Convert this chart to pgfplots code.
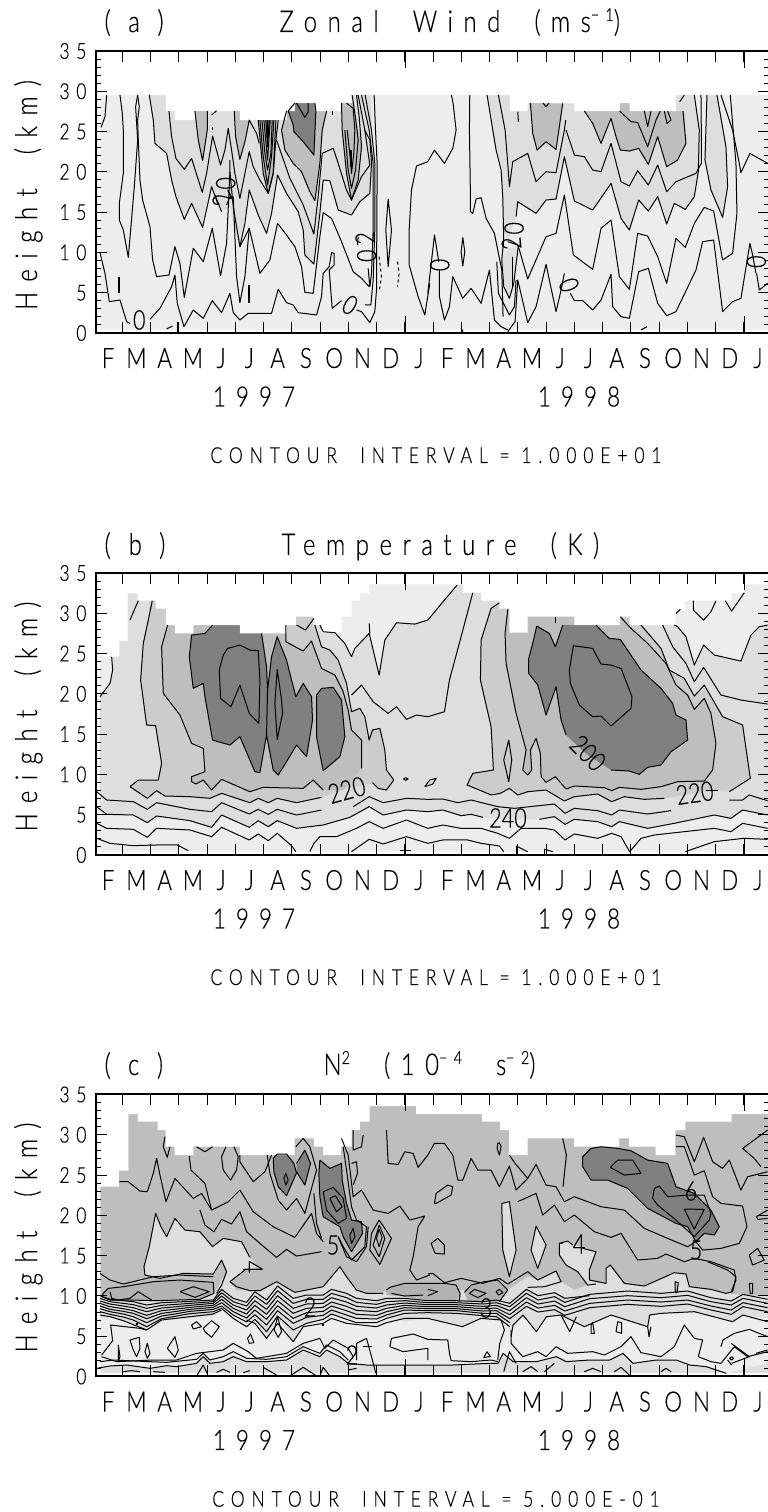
\documentclass[border=0pt]{standalone}
\usepackage{fontspec}
\usepackage{pgfplots}
\pgfplotsset{compat=1.18}
\setmainfont{Lato Light}
\newfontfamily\tf[FakeStretch=0.8,FakeBold=0.3]{Lato Light}
\definecolor{gA}{gray}{0.93}
\definecolor{gB}{gray}{0.87}
\definecolor{gC}{gray}{0.80}
\definecolor{gD}{gray}{0.745}
\definecolor{gE}{gray}{0.70}
\definecolor{gF}{gray}{0.50}
\newcommand{\Cl}[1]{\addplot[cl] coordinates {#1};}
\newcommand{\Fl}[2]{\addplot[fill=#1,draw=none] coordinates {#2} -- cycle;}
\pgfplotsset{
  cl/.style={black,line width=1pt,line join=round},
  panel/.style={
    scale only axis,width=673pt,height=282pt,anchor=south west,
    xmin=1.07,xmax=24.89,ymin=0,ymax=35,
    axis on top,
    axis line style={line width=2pt},
    tick align=inside,
    tick style={black,line width=1pt},
    xtick={2,...,24},xticklabels={},xtick pos=both,
    major tick length=11pt,minor tick length=5pt,
    extra x ticks={1.5,2.5,...,24.5},
    extra x tick labels={F,M,A,M,J,J,A,S,O,N,D,J,F,M,A,M,J,J,A,S,O,N,D,J},
    extra x tick style={major tick length=0pt,tick style={draw=none},xticklabel pos=bottom,
      xticklabel style={anchor=base,yshift=-35pt,font=\tf\fontsize{28}{28}\selectfont}},
    ytick={0,5,...,35},minor y tick num=4,ytick pos=both,
    yticklabel pos=left,
    /pgf/number format/assume math mode=true,
    yticklabel style={font=\tf\fontsize{22}{22}\selectfont\addfontfeature{LetterSpace=30},xshift=-6pt},
    x filter/.expression={12+(x/3-315)/28.27},
  },
}
\begin{document}
\begin{tikzpicture}[x=1pt,y=1pt]
\path[use as bounding box] (0,0) rectangle (768,1512);
\newcommand{\ttl}{\tf\fontsize{30}{30}\selectfont\addfontfeature{LetterSpace=35}}

%%%%%%%%%%%%%%%%%%%%%%%% panel a
\begin{axis}[panel,at={(96pt,1179pt)},y filter/.expression={(203-y/3)/8.06}]
\Fl{gA}{(30,-105) (2110,-105) (2110,600) (30,600)}
\Fl{gB}{(178,-105) (190,-30) (195,40) (230,70) (245,150) (258,200) (283,268) (305,220) (338,292) (365,170) (390,245) (420,230) (435,300) (450,350) (478,180) (505,255) (530,310) (545,250) (563,135) (590,190) (625,245) (640,300) (645,375) (672,402) (690,250) (700,150) (720,152) (745,240) (785,255) (810,215) (840,190) (845,100) (845,-105)}
\Fl{gD}{(315,-57) (325,30) (338,92) (352,0) (352,-57)}
\Fl{gD}{(433,-57) (437,20) (450,88) (465,35) (475,-30) (475,-57)}
\Fl{gD}{(505,-30) (520,130) (535,190) (550,130) (558,-30)}
\Fl{gF}{(525,-30) (533,60) (541,-30)}
\Fl{gD}{(590,-57) (575,0) (585,60) (610,100) (635,125) (660,185) (675,212) (690,100) (700,0) (710,-81) (590,-81)}
\Fl{gF}{(615,-81) (595,-57) (610,-15) (612,5) (640,35) (672,75) (678,-57) (675,-81)}
\Fl{gD}{(755,-81) (790,-81) (815,50) (805,150) (785,210) (770,130) (758,0)}
\Fl{gB}{(1192,-105) (1209,0) (1219,60) (1236,120) (1242,300) (1254,335) (1279,260) (1284,215) (1339,250) (1369,210) (1399,207) (1424,80) (1454,213) (1509,240) (1564,160) (1594,265) (1619,300) (1647,210) (1676,243) (1704,200) (1731,282) (1754,220) (1787,238) (1814,200) (1826,125) (1829,0) (1814,-105)}
\Fl{gB}{(1236,390) (1242,470) (1259,505) (1272,470) (1284,350) (1254,355) (1239,380)}
\Fl{gB}{(1852,-105) (1846,90) (1864,180) (1899,262) (1914,170) (1909,50) (1882,-105)}
\Fl{gD}{(1322,-81) (1329,10) (1342,60) (1369,35) (1399,58) (1419,-80)}
\Fl{gD}{(1484,-57) (1509,-20) (1534,40) (1564,-35) (1579,20) (1592,60) (1619,63) (1647,55) (1676,103) (1704,20) (1731,110) (1764,90) (1789,40) (1784,-57)}
\Fl{gD}{(1590,-81) (1620,-81) (1620,-57) (1590,-57)}
\Fl{white}{(-100,-400) (2150,-400) (2150,-105) (1759,-105) (1759,-57) (1620,-57) (1620,-81) (1590,-81) (1590,-57) (1454,-57) (1454,-81) (1314,-81) (1314,-57) (1260,-57) (1260,-105) (785,-105) (785,-81) (755,-81) (755,-57) (675,-57) (675,-81) (615,-81) (615,-57) (590,-57) (590,-30) (450,-30) (450,-57) (315,-57) (315,-30) (255,-30) (255,-57) (228,-57) (228,-105) (33,-105) (33,600) (2150,600) (2150,700) (-100,700)}
\Cl{(33,-8) (45,-40) (50,-105)}
\Cl{(90,-105) (97,-50) (100,0) (100,130) (88,220) (88,270) (100,300) (115,382) (122,300) (133,170) (143,30) (137,-70) (143,-105)}
\Cl{(143,-105) (148,-70) (143,-30) (145,30) (150,150) (158,210) (180,290) (188,390) (200,440) (237,435) (255,350) (270,400) (283,502) (310,355) (340,395) (367,295) (392,437) (410,340) (420,125) (420,90)}
\Cl{(178,-105) (190,-30) (195,40) (230,70) (245,150) (258,200) (283,268) (305,220) (338,292) (365,170) (385,225)}
\Cl{(237,-57) (245,20) (258,85) (283,118) (305,85) (337,187) (350,130) (368,18) (392,105) (405,60) (415,-5) (425,60) (435,130) (450,205) (478,65) (490,110) (510,150) (535,190) (550,130) (558,30) (565,-30)}
\Cl{(375,195) (395,245)}
\Cl{(410,225) (420,200)}
\Cl{(315,-57) (325,30) (338,92) (352,0) (352,-57)}
\Cl{(365,-45) (380,-58)}
\Cl{(367,-10) (367,0)}
\Cl{(433,-57) (437,20) (450,88) (465,35) (478,-30) (500,10) (508,40)}
\Cl{(420,125) (430,230) (450,350) (465,280) (478,180) (505,255) (530,310) (545,250) (563,135) (590,190) (625,245) (640,300) (645,375) (672,402) (690,250) (700,150) (720,152) (745,240) (785,255) (810,215) (840,190) (845,100) (840,30) (825,0)}
\Cl{(430,200) (440,440) (450,518) (465,440) (478,295)}
\Cl{(450,350) (478,295) (510,430) (540,390) (563,280) (590,315) (615,350) (635,410) (645,487) (670,490) (690,320) (700,248) (725,265) (755,335) (790,425) (815,445) (838,470)}
\Cl{(505,-30) (520,130) (535,190) (550,130) (558,-30)}
\Cl{(510,-30) (520,80) (533,165) (545,80) (552,-30)}
\Cl{(516,-30) (525,70) (533,120) (543,70) (547,-30)}
\Cl{(522,-30) (533,90) (541,-30)}
\Cl{(528,-30) (533,50) (538,-30)}
\Cl{(533,-30) (533,20)}
\Cl{(590,-57) (575,0) (585,60) (610,100) (635,125) (660,185) (675,212) (690,100) (697,0) (710,-57)}
\Cl{(615,-81) (595,-57) (610,-15) (612,5) (640,35) (672,75) (678,-57) (675,-81)}
\Cl{(620,-81) (645,-38) (655,-55) (655,-81)}
\Cl{(560,30) (600,145) (640,225) (672,312) (685,200) (697,70) (730,55) (745,100) (770,180) (785,210) (815,140) (840,105) (825,0) (805,-105)}
\Cl{(728,-57) (728,-45)}
\Cl{(765,0) (775,120) (785,175) (797,120) (805,30) (798,-30) (787,-105)}
\Cl{(772,0) (783,100) (785,130) (792,70) (795,0) (790,-65) (770,-81)}
\Cl{(755,-81) (757,0) (770,130) (785,210) (805,150) (815,50) (808,-40) (800,-105)}
\addplot[cl,line width=2pt] coordinates {(783,60) (783,110)};
\addplot[cl,line width=2pt] coordinates {(87,440) (87,490)};
\addplot[cl,line width=2pt] coordinates {(478,465) (478,520)};
\Cl{(30,368) (45,430) (58,515) (90,510) (110,575) (120,580)}
\Cl{(180,568) (210,535) (245,470) (255,435) (262,520) (282,590) (310,540) (340,565) (367,512) (395,548) (420,490) (430,548) (450,570) (475,550) (490,550) (545,550) (565,478) (590,518) (610,525) (625,548) (680,555) (695,500) (700,430) (718,410) (725,368) (733,370) (733,405) (718,420) (727,535) (755,512)}
\Cl{(230,597) (248,588)}
\Cl{(262,575) (262,605)}
\Cl{(800,540) (815,545) (840,578) (855,545) (860,480) (862,100) (857,0) (853,-105)}
\Cl{(826,-105) (845,0) (855,100) (855,300) (850,450) (843,525) (825,525)}
\Cl{(815,-105) (838,0) (850,100) (850,300) (845,430) (840,470)}
\Cl{(835,415) (840,470)}
\Cl{(805,320) (803,345)}
\addplot[cl,dashed] coordinates {(868,380) (875,440) (868,485)};
\addplot[cl,dashed] coordinates {(923,395) (928,430) (923,470)};
\Cl{(895,207) (905,300) (895,410) (888,300) (895,207)}
\Cl{(1020,460) (1005,555) (985,500) (958,405) (958,300) (965,180) (980,108) (1014,95) (1034,60) (1064,100) (1089,55) (1099,0) (1090,-80) (1085,-105)}
% right crop
\Cl{(1014,490) (1034,315) (1047,395)}
\Cl{(1049,420) (1049,500) (1064,570) (1079,530) (1089,440) (1119,505) (1144,475) (1174,520) (1199,420) (1214,570) (1234,590) (1254,600)}
\Cl{(1140,-105) (1139,0) (1142,200) (1142,245) (1149,250) (1159,207) (1174,203) (1189,265) (1214,310) (1236,420) (1240,560)}
\Cl{(1119,322) (1125,365) (1119,408) (1114,365) (1119,322)}
\Cl{(1192,-105) (1209,0) (1219,60) (1234,120) (1239,200) (1242,330) (1236,390) (1242,470) (1259,505) (1272,460) (1286,345)}
\Cl{(1226,-105) (1246,0) (1254,100) (1259,170) (1269,95) (1314,70) (1339,155) (1369,125) (1399,128) (1424,0) (1428,-30)}
\Cl{(1221,395) (1226,490) (1259,555) (1274,530) (1279,450)}
\Cl{(1254,605) (1276,575) (1284,450) (1314,578) (1339,530) (1369,403) (1399,545) (1414,480) (1424,430)}
\Cl{(1254,335) (1284,345) (1289,360) (1314,447) (1369,320) (1399,310) (1424,195) (1451,375) (1509,418) (1534,295) (1564,270) (1589,440) (1619,478) (1644,310) (1674,318) (1704,380) (1731,460) (1759,325) (1787,352) (1814,280) (1844,232) (1872,243) (1899,390) (1929,370) (1942,250) (1939,100) (1922,-105)}
\Cl{(1279,260) (1284,215) (1339,250) (1369,210) (1399,207) (1424,80) (1454,213) (1509,240) (1564,160) (1594,265) (1619,300) (1647,210) (1676,243) (1704,200) (1731,282) (1754,220) (1787,238) (1814,200) (1826,125) (1829,0) (1814,-105)}
\Cl{(1429,0) (1454,75) (1484,80) (1509,120) (1534,125) (1564,40) (1594,155) (1619,168) (1644,122) (1676,165) (1704,105) (1731,185) (1759,155) (1819,130) (1835,100) (1835,0) (1834,-105)}
\Cl{(1322,-81) (1329,10) (1342,60) (1369,35) (1399,58) (1419,-80)}
\Cl{(1484,-57) (1509,-20) (1534,40) (1564,-35) (1579,20) (1592,60) (1619,63) (1647,55) (1676,103) (1704,20) (1731,110) (1764,90) (1789,40) (1780,-57)}
\Cl{(1590,-57) (1624,-25) (1644,-23) (1674,50) (1699,-30) (1712,-57)}
\Cl{(1664,-57) (1674,-10) (1684,-57)}
\Cl{(1724,-57) (1732,-20) (1744,-30) (1734,-57)}
\Cl{(1284,-55) (1286,-25)}
\Cl{(1360,-81) (1369,-70) (1378,-81)}
\Cl{(1770,-85) (1784,-105)}
\Cl{(1442,490) (1454,512) (1479,512) (1509,540) (1534,510) (1564,433) (1569,530) (1594,560) (1619,565) (1647,425) (1676,415) (1704,520) (1731,557) (1759,545) (1819,420) (1839,335) (1872,330) (1899,545) (1929,515) (1954,505) (1981,340) (1989,375) (1999,430)}
\Cl{(2001,430) (2009,480) (2034,460)}
\Cl{(1852,-105) (1846,90) (1864,180) (1899,262) (1914,170) (1909,50) (1882,-105)}
\Cl{(1894,-105) (1929,0) (1949,100) (1954,128) (1981,70) (2034,100)}
\Cl{(1238,410) (1238,430)}
\Cl{(1268,380) (1268,470)}
\Cl{(1654,600) (1672,590)}
\Cl{(1114,595) (1120,605)}
\end{axis}
\node[rotate=90,anchor=base] at (37,1317) {\ttl Height\ \ (km)};

%%%%%%%%%%%%%%%%%%%%%%%% panel b
\begin{axis}[panel,at={(96pt,657pt)},y filter/.expression={(275-y/3)/8.06}]
\Fl{gA}{(30,-100) (2110,-100) (2110,815) (30,815)}
\Fl{gB}{(30,350) (60,310) (68,270) (65,230) (65,-50) (700,-50) (700,155) (735,158) (765,190) (785,230) (795,205) (838,160) (868,285) (885,180) (920,128) (975,132) (1014,120) (1064,60) (1102,15) (1102,-50) (1754,-50) (1754,135) (1764,140) (1789,170) (1814,255) (1842,195) (1874,225) (1954,243) (1984,165) (2009,140) (2034,135) (2110,135) (2110,705) (2034,705) (1959,690) (1919,715) (1874,705) (1754,730) (1674,745) (1589,725) (1566,740) (1524,725) (1454,718) (1426,733) (1394,710) (1349,718) (1194,715) (1144,703) (1114,707) (1059,690) (1014,695) (950,690) (880,705) (838,680) (780,712) (700,735) (620,745) (562,722) (535,740) (505,722) (478,742) (395,705) (365,742) (300,722) (200,708) (172,728) (130,705) (50,703) (30,685)}
\Fl{gC}{(190,-50) (175,120) (160,190) (152,300) (170,435) (197,437) (215,550) (205,600) (145,600) (120,620) (172,655) (200,632) (225,648) (300,650) (360,655) (395,640) (480,668) (505,655) (535,668) (562,655) (620,668) (700,650) (770,625) (850,610) (865,625) (890,630) (912,600) (890,570) (885,510) (870,445) (848,450) (838,480) (825,410) (810,385) (785,395) (770,310) (745,240) (720,210) (695,200) (675,135) (675,-50)}
\Fl{gD}{(233,-50) (233,135) (215,200) (220,340) (270,405) (305,490) (340,505) (345,575) (305,590) (305,605) (318,612) (340,600) (365,630) (395,598) (480,635) (520,622) (640,625) (670,600) (700,630) (760,630) (815,565) (815,480) (785,450) (775,390) (760,335) (735,285) (695,265) (665,183) (640,213) (588,185) (588,-50)}
\Fl{gC}{(1229,-50) (1229,68) (1204,85) (1174,180) (1172,300) (1204,440) (1211,570) (1149,580) (1132,615) (1169,630) (1204,645) (1232,640) (1259,625) (1284,645) (1314,635) (1369,630) (1424,663) (1454,650) (1524,642) (1566,665) (1604,650) (1664,658) (1724,655) (1814,640) (1884,630) (1919,635) (1982,595) (1959,440) (1899,410) (1844,315) (1814,348) (1784,300) (1739,270) (1714,205) (1654,135) (1634,-50)}
\Fl{gD}{(1254,-50) (1254,88) (1246,160) (1249,250) (1279,400) (1309,510) (1299,570) (1314,585) (1326,570) (1322,510) (1339,475) (1352,520) (1354,590) (1369,607) (1397,590) (1429,627) (1454,618) (1544,623) (1566,632) (1589,622) (1654,628) (1714,620) (1764,605) (1844,603) (1869,570) (1879,490) (1864,400) (1844,355) (1814,388) (1794,345) (1759,315) (1729,250) (1674,190) (1624,145) (1592,110) (1592,-50)}
\Fl{gC}{(1257,480) (1242,540) (1257,605) (1266,540)}
\Fl{gF}{(368,120) (368,135) (345,160) (305,165) (298,230) (310,325) (340,310) (345,350) (368,480) (420,495) (450,470) (495,575) (510,578) (530,465) (550,570) (565,585) (590,545) (620,495) (650,530) (668,420) (665,350) (640,310) (618,350) (605,300) (590,240) (562,170) (545,230) (533,330) (530,260) (515,160) (515,120)}
\Fl{gF}{(680,345) (695,325) (730,322) (755,360) (765,470) (750,530) (700,572) (680,470)}
\Fl{gF}{(1341,138) (1379,160) (1397,200) (1419,135) (1519,135) (1559,175) (1592,178) (1654,270) (1714,325) (1749,370) (1759,405) (1789,420) (1794,480) (1744,515) (1714,555) (1674,562) (1649,583) (1619,573) (1564,570) (1494,525) (1429,465) (1414,420) (1399,320) (1369,405) (1344,315) (1317,280) (1317,235) (1329,190)}
\Fl{white}{(-100,-400) (2150,-400) (2150,13) (1964,13) (1964,38) (1926,38) (1926,62) (1786,62) (1786,86) (1757,86) (1757,135) (1620,135) (1620,110) (1591,110) (1591,135) (1454,135) (1454,110) (1314,110) (1314,158) (1259,158) (1259,86) (1229,86) (1229,62) (1174,62) (1174,38) (1119,38) (1119,13) (838,13) (838,38) (810,38) (810,62) (785,62) (785,110) (755,110) (755,158) (695,158) (695,135) (670,135) (670,110) (618,110) (618,135) (590,135) (590,160) (450,160) (450,135) (310,135) (310,160) (255,160) (255,135) (228,135) (228,86) (197,86) (197,62) (143,62) (143,40) (113,40) (113,183) (88,183) (88,230) (30,230) (30,815) (2150,815) (2150,900) (-100,900)}
\Cl{(65,230) (68,270) (60,310) (30,350)}
\Cl{(120,120) (145,62)}
\Cl{(120,620) (145,600) (205,600) (215,550) (197,437) (170,435) (152,300) (160,190) (175,120) (187,62)}
\Cl{(120,620) (172,655) (200,632) (225,648) (300,650) (360,655) (395,640) (480,668) (505,655) (535,668) (562,655) (620,668) (695,652)}
\Cl{(233,135) (215,200) (220,340) (270,405) (305,490) (340,505) (345,575) (305,590) (305,605) (318,612) (340,600) (365,630) (395,598) (480,635) (520,622) (640,625) (670,600) (700,630)}
\Cl{(848,608) (865,625) (890,630) (912,600) (890,570) (885,510) (870,445) (848,450) (838,480) (825,410) (810,385) (785,395) (770,310) (745,240) (720,210) (695,200) (675,135)}
\Cl{(815,565) (815,480) (785,450) (775,390) (760,335) (735,285) (695,265) (665,183) (640,213) (588,185) (588,135)}
\Cl{(620,135) (647,150) (672,115)}
\Cl{(690,135) (700,155) (735,158) (765,190) (785,230) (795,205) (838,160) (868,285) (885,180) (920,128) (975,132) (1014,120) (1064,60) (1102,15)}
\Cl{(838,130) (840,160)}
\Cl{(785,345) (815,315) (850,365) (895,400) (920,380) (950,418) (980,405) (1014,410) (1064,395) (1079,300) (1114,170) (1149,38)}
\Cl{(368,135) (345,160) (305,165) (298,230) (310,325) (340,310) (345,350) (368,480) (420,495) (450,470) (495,575) (510,578) (530,465) (550,570) (565,585) (590,545) (620,495) (650,530) (668,420) (665,350) (640,310) (618,350) (605,300) (590,240) (562,170) (545,230) (533,330) (530,260) (515,160)}
\Cl{(530,465) (533,330)}
\Cl{(680,345) (695,325) (730,322) (755,360) (765,470) (750,530) (700,572) (680,470) (680,345)}
\Cl{(413,205) (450,195) (480,210) (505,212) (510,300) (507,430) (478,400) (450,315) (423,380) (392,355) (388,270) (400,225) (413,205)}
\Cl{(562,268) (575,360) (578,400) (562,478) (555,370) (562,268)}
\Cl{(948,593) (955,597) (948,601) (941,597) (948,593)}
\Cl{(1005,620) (1020,600) (1039,595) (1029,612) (1005,620)}
% bottom
\Cl{(20,635) (50,660) (130,665) (172,688) (200,668) (300,688) (365,695) (395,668) (478,702) (505,688) (535,703) (562,688) (620,705) (695,690)}
\Cl{(790,680) (838,650) (880,668) (950,655) (1014,658) (1059,657) (1104,668) (1144,660) (1224,680) (1274,685) (1394,672) (1426,700) (1454,685) (1524,692) (1566,705) (1589,690) (1674,702) (1744,692)}
\Cl{(1919,660) (1959,660) (1979,645) (2034,662)}
\Cl{(20,680) (50,703) (130,705) (172,728) (200,708) (300,722) (365,742) (395,705) (478,742) (505,722) (535,740) (562,722) (620,745) (700,735) (780,712) (838,680) (880,705) (950,690) (1014,695) (1059,690) (1114,707) (1144,703) (1180,712)}
\Cl{(1349,718) (1394,710) (1426,733) (1454,718) (1524,725) (1566,740) (1589,725) (1674,745) (1754,730) (1874,705) (1924,715) (1959,690) (2034,705)}
\Cl{(20,730) (50,745) (130,748) (172,772) (200,745) (300,750) (365,770) (395,742) (478,780) (505,762) (535,782) (562,760) (605,797) (618,815)}
\Cl{(660,815) (672,790) (690,770) (740,770) (800,745) (838,725) (880,745) (950,720) (1014,745) (1059,735) (1114,745) (1174,745) (1224,760) (1259,775) (1294,745) (1364,745) (1394,750) (1426,780) (1454,762) (1524,775) (1566,760) (1594,770) (1620,815) (1654,775) (1694,765) (1874,745) (1924,755) (1959,730) (2034,745)}
\Cl{(20,775) (60,790) (130,797) (200,795) (262,795) (295,812)}
\Cl{(785,815) (838,778) (880,792) (950,770) (1014,790) (1059,780) (1134,780) (1174,790) (1229,798) (1242,815)}
\Cl{(1279,798) (1314,815)}
\Cl{(1364,808) (1389,815)}
\Cl{(1279,798) (1279,825)}
\Cl{(1364,808) (1364,825)}
\Cl{(930,812) (965,812)}
\Cl{(947,800) (947,825)}
\Cl{(1787,815) (1874,785) (1962,775) (2034,778)}
% upper right
\Cl{(1592,110) (1624,145) (1674,190) (1729,250) (1759,315) (1794,345) (1814,388) (1844,355) (1864,400) (1879,490) (1869,570) (1844,603) (1764,605) (1714,620) (1654,628) (1589,622) (1566,632) (1544,623) (1454,618) (1429,627) (1397,590) (1369,607) (1354,590) (1352,520) (1339,475) (1322,510) (1326,570) (1314,585) (1299,570) (1309,510) (1279,400) (1249,250) (1246,160) (1254,88)}
\Cl{(1654,135) (1714,205) (1739,270) (1784,295) (1814,348) (1844,315) (1899,410) (1959,435) (1982,595) (1919,635)}
\Cl{(1884,630) (1850,630)}
\Cl{(1229,68) (1204,85) (1174,180) (1172,300) (1204,440) (1211,570) (1149,580) (1132,615) (1169,630) (1204,645) (1232,640) (1259,625) (1284,645) (1314,635) (1369,630) (1424,663) (1454,650) (1524,642) (1566,665) (1604,650) (1664,658) (1724,655)}
\Cl{(1719,135) (1749,200) (1789,250) (1814,305) (1842,262) (1894,345) (1954,360) (2034,372)}
\Cl{(1754,135) (1764,140) (1789,170) (1814,255) (1842,195) (1874,225) (1954,243) (1984,165) (2009,140) (2034,135)}
\Cl{(1759,100) (1772,88)}
\Cl{(1811,62) (1811,90) (1842,120) (1864,95) (1879,62)}
\Cl{(1907,62) (1926,93) (1964,38)}
\Cl{(1397,110) (1397,130)}
\Cl{(1257,480) (1242,540) (1257,605) (1266,540) (1257,480)}
\Cl{(1341,138) (1379,160) (1397,200) (1419,135)}
\Cl{(1341,138) (1329,190) (1317,235) (1317,280) (1344,315) (1369,405) (1399,320) (1414,420) (1429,465)}
\Cl{(1519,135) (1559,175) (1592,178) (1654,270) (1714,325) (1749,370) (1759,405) (1789,420) (1794,480) (1744,515) (1714,555) (1674,562) (1649,583) (1619,573) (1564,570)}
\Cl{(1451,197) (1509,205) (1534,252) (1564,255) (1594,265) (1627,350) (1624,385) (1564,438) (1534,408) (1509,410) (1469,375) (1442,310) (1439,270) (1451,197)}
\end{axis}
\node[rotate=90,anchor=base] at (37,795.5) {\ttl Height\ \ (km)};

%%%%%%%%%%%%%%%%%%%%%%%% panel c
\begin{axis}[panel,at={(96pt,135.5pt)},y filter/.expression={(246.5-y/3)/8.06}]
\Fl{gD}{(30,-100) (2110,-100) (2110,730) (30,730)}
% 0.87 band
\Fl{gB}{(30,500) (370,490) (395,470) (420,455) (440,470) (480,480) (510,482) (560,455) (615,487) (700,470) (750,410) (770,440) (800,480) (830,490) (870,490) (945,470) (1014,480) (1100,480) (1254,480) (1314,440) (1344,450) (1399,423) (1414,455) (1454,480) (1494,465) (1464,425) (1429,405) (1409,375) (1409,340) (1434,333) (1479,355) (1519,365) (1499,420) (1499,450) (1549,460) (1549,415) (1562,405) (1604,460) (1664,468) (1754,428) (1789,432) (1799,470) (1864,478) (1909,490) (1959,495) (2110,500) (2110,730) (30,730)}
\Fl{gD}{(420,455) (440,440) (475,470) (480,482) (440,480)}
\Fl{gB}{(197,250) (213,290) (230,320) (255,265) (285,300) (330,305) (368,350) (400,325) (455,335) (480,382) (505,412) (465,420) (420,455) (395,470) (380,480) (410,425) (395,390) (370,432) (280,430) (210,445) (165,435) (162,410) (178,350)}
\Fl{gE}{(40,490) (55,475) (100,470) (190,455) (270,450) (370,457) (372,490) (330,508) (200,512) (120,510) (60,510) (35,500)}
\Fl{gE}{(890,480) (900,472) (945,460) (1014,460) (1064,460) (1099,465) (1111,490) (1109,515) (1014,510) (945,500) (890,495)}
\Fl{gE}{(1124,487) (1144,465) (1184,455) (1224,450) (1254,480) (1229,515) (1134,515)}
\Fl{gA}{(30,565) (60,560) (100,572) (170,600) (215,570) (300,565) (370,560) (395,530) (470,570) (495,560) (530,625) (563,560) (610,635) (640,580) (700,565) (725,555) (770,570) (860,565) (890,560) (945,575) (1014,565) (1118,590) (1174,565) (1234,570) (1264,610) (1270,585) (1300,555) (1340,605) (1370,560) (1414,555) (1484,590) (1564,555) (1674,590) (1680,555) (1714,550) (1814,545) (1929,575) (1960,555) (2110,575) (2110,705) (2034,700) (1910,730) (1850,710) (1800,705) (1760,690) (1700,690) (1630,700) (1600,670) (1560,690) (1500,690) (1430,695) (1400,680) (1340,695) (1270,695) (1240,670) (1225,700) (1200,700) (1090,705) (1014,705) (880,705) (830,705) (775,700) (750,680) (710,660) (690,680) (640,660) (590,690) (530,695) (470,695) (430,680) (400,695) (360,700) (340,680) (320,700) (260,710) (230,707) (180,715) (110,705) (60,708) (30,715)}
\Fl{gB}{(1236,220) (1259,215) (1279,360) (1259,440) (1239,360)}
\Fl{gB}{(1339,288) (1369,345) (1344,415) (1324,360)}
\Fl{gD}{(1756,455) (1766,458) (1762,488) (1757,488)}
\Fl{gD}{(1979,460) (1989,460) (1989,490) (1982,490)}
\Fl{gF}{(550,85) (562,72) (590,72) (612,100) (620,128) (590,197) (565,170) (552,125)}
\Fl{gF}{(620,100) (645,60) (662,100) (645,165) (620,125)}
\Fl{gF}{(690,90) (720,115) (755,100) (757,150) (770,220) (785,270) (815,275) (818,310) (785,365) (760,320) (750,290) (700,260) (690,200) (687,130)}
\Fl{gF}{(1479,80) (1504,55) (1534,50) (1584,55) (1624,62) (1674,90) (1734,100) (1759,170) (1814,190) (1864,240) (1889,290) (1874,315) (1844,310) (1819,335) (1794,290) (1759,280) (1674,235) (1614,175) (1554,150) (1504,150) (1479,110)}
\Fl{white}{(-100,-400) (2150,-400) (2150,-48) (1926,-48) (1926,-25) (1787,-25) (1787,0) (1757,0) (1757,75) (1698,75) (1698,50) (1618,50) (1618,25) (1588,25) (1588,50) (1453,50) (1453,25) (1314,25) (1314,75) (1258,75) (1258,0) (1231,0) (1231,-25) (1177,-25) (1177,-48) (979,-48) (979,-72) (839,-72) (839,-25) (810,-25) (810,0) (785,0) (785,50) (754,50) (754,75) (700,75) (700,50) (673,50) (673,25) (614,25) (614,75) (450,75) (450,50) (310,50) (310,75) (254,75) (254,50) (227,50) (227,0) (203,0) (203,-25) (144,-25) (144,-48) (115,-48) (115,122) (87,122) (87,170) (31,170) (31,730) (2150,730) (2150,800) (-100,800)}
% upper lines
\Cl{(88,155) (115,155) (150,183) (172,185) (190,130) (200,85) (210,135) (228,215) (255,145) (310,205) (335,190) (365,240) (415,215) (450,180) (490,245) (550,290) (615,322) (665,250) (680,310) (700,335)}
\Cl{(298,78) (303,120) (345,160) (365,240)}
\Cl{(225,20) (220,50) (232,82) (240,50)}
\Cl{(320,50) (345,65) (368,50)}
\Cl{(408,50) (395,80) (400,120) (422,150) (440,120) (445,80) (432,50)}
\Cl{(450,75) (450,95) (490,155) (525,125) (545,75)}
\Cl{(330,240) (345,285) (372,305) (395,268) (425,282) (450,245) (470,305) (510,340) (560,382) (590,358) (620,378) (695,365)}
\Cl{(197,250) (213,290) (230,320) (255,265) (285,300) (330,305) (368,350) (400,325) (455,335) (480,382)}
\Cl{(197,250) (178,350) (162,410) (165,435) (210,445) (280,430) (370,432) (395,390) (410,425) (395,465) (380,490)}
\Cl{(465,420) (420,455) (440,470) (480,482) (510,482) (560,455) (615,487) (700,470) (750,410) (770,440) (800,480) (830,490) (880,490)}
\Cl{(30,430) (60,450) (100,462) (190,440) (270,435) (370,440)}
\Cl{(40,490) (55,475) (100,470) (190,455) (270,450) (370,457) (372,490) (330,508) (200,512) (120,510) (60,510) (35,500) (40,490)}
\Cl{(60,485) (65,505) (85,510) (120,505) (145,485) (185,510)}
\Cl{(270,485) (310,470) (358,485) (315,502) (270,485)}
\Cl{(550,85) (562,72) (590,72) (612,100) (620,128) (590,197) (565,170) (552,125) (550,85)}
\Cl{(620,100) (645,60) (662,100) (645,165) (620,125)}
\Cl{(588,130) (595,150) (588,165) (582,145) (588,130)}
\Cl{(532,75) (540,130) (565,210) (590,240) (620,205) (645,250) (665,175) (680,120) (660,50) (640,25) (618,50)}
\Cl{(690,90) (720,115) (755,100) (757,150) (770,220) (785,270) (815,275) (818,310) (785,365) (760,320) (750,290) (700,260) (690,200) (687,130) (690,90)}
\Cl{(700,185) (730,172) (760,205) (770,265) (745,280) (710,240) (700,185)}
\Cl{(720,205) (737,197) (757,230) (740,245) (720,205)}
\Cl{(780,315) (790,295) (795,320) (785,340) (780,315)}
\Cl{(672,190) (680,280) (695,325)}
\Cl{(760,50) (770,120) (785,230) (800,270) (830,290) (825,350) (785,390) (760,350) (745,320)}
\Cl{(755,25) (775,75) (790,200) (815,180) (850,240) (895,250) (930,228) (960,270) (1005,258) (985,290) (970,380) (960,420) (980,450) (1020,435)}
\Cl{(785,100) (800,95) (803,130) (790,165)}
\Cl{(790,0) (790,60) (815,50) (820,15)}
\Cl{(745,320) (770,380) (800,395) (830,350) (835,290)}
\Cl{(868,270) (905,325) (870,403) (840,360) (845,310) (868,270)}
\Cl{(868,285) (885,325) (868,380) (850,345) (868,285)}
\Cl{(868,298) (877,322) (868,350) (860,325) (868,298)}
\Cl{(890,0) (895,100) (925,103) (945,65) (970,70) (985,112) (1014,75) (1034,40) (1064,40) (1089,75) (1104,150) (1119,150) (1144,85) (1164,120) (1204,120) (1229,170) (1259,108) (1279,180) (1314,145) (1339,103) (1369,165) (1399,170) (1424,215) (1454,200) (1534,230) (1604,240) (1664,295) (1734,325) (1794,350) (1819,335)}
\Cl{(1259,75) (1276,100) (1314,145)}
\Cl{(1284,215) (1339,190) (1359,255) (1394,225) (1424,275) (1454,255) (1514,305) (1564,322) (1594,310) (1644,390) (1704,385) (1729,372) (1784,395) (1814,385) (1864,395) (1934,420) (1939,450) (1925,485)}
\Cl{(1034,220) (1039,190) (1074,165) (1089,170) (1084,195) (1039,220) (1034,220)}
\Cl{(1024,340) (1044,325) (1064,345) (1064,372) (1036,370) (1024,340)}
\Cl{(1224,40) (1229,38) (1234,50) (1229,75) (1222,55) (1224,40)}
\Cl{(1236,220) (1259,215) (1279,360) (1259,440) (1239,360) (1236,220)}
\Cl{(1339,288) (1369,345) (1344,415) (1324,360) (1339,288)}
\Cl{(1419,25) (1430,75) (1420,170)}
\Cl{(1479,80) (1504,55) (1534,50) (1584,55) (1624,62) (1674,90) (1734,100) (1759,170) (1814,190) (1864,240) (1889,290) (1874,315) (1844,310) (1819,335) (1794,290) (1759,280) (1674,235) (1614,175) (1554,150) (1504,150) (1479,110) (1479,80)}
\Cl{(1562,112) (1584,90) (1629,90) (1654,130) (1604,135) (1562,112)}
\Cl{(1694,175) (1709,168) (1734,200) (1794,195) (1844,195) (1864,250) (1859,270) (1814,320) (1759,270) (1704,225) (1689,205) (1694,175)}
\Cl{(1784,237) (1844,238) (1814,297) (1784,237)}
\Cl{(1759,15) (1784,20) (1814,95) (1842,22) (1869,95) (1899,115) (1919,90) (1954,180) (1974,140) (2034,125)}
\Cl{(1759,50) (1784,50) (1814,135) (1844,122) (1869,200) (1894,220) (1959,228) (1972,290) (1949,340) (1894,355) (1839,360) (1819,335)}
\Cl{(2034,0) (1959,55) (1994,85) (2014,110)}
\Cl{(2000,260) (2034,240)}
\Cl{(2000,260) (2005,268) (2034,265)}
\Cl{(1979,375) (2004,355) (2024,390) (1989,405) (1979,375)}
\Cl{(1419,340) (1409,340) (1409,375) (1429,405) (1464,425) (1494,465) (1519,462)}
\Cl{(1409,340) (1434,333) (1450,345)}
\Cl{(1479,355) (1519,365) (1499,420) (1499,450) (1549,460) (1549,415) (1562,405) (1604,460) (1664,468) (1754,428) (1789,432) (1799,470) (1864,478) (1909,490) (1929,485) (1939,440) (1914,420) (1854,395)}
\Cl{(1756,455) (1766,458) (1762,488) (1757,488) (1756,455)}
\Cl{(1979,460) (1989,460) (1989,490) (1982,490) (1979,460)}
\Cl{(1014,432) (1029,430) (1064,458) (1114,445) (1179,460) (1229,445) (1254,462) (1314,425) (1344,450) (1399,423) (1414,455) (1364,470) (1314,472)}
\Cl{(890,480) (900,472) (945,460) (1014,460) (1064,460) (1099,465) (1111,490) (1109,515)}
\Cl{(1014,478) (1044,485) (1014,497)}
\Cl{(1124,487) (1144,465) (1184,455) (1224,450) (1254,480) (1229,515)}
\Cl{(1139,490) (1154,478) (1189,490) (1164,503) (1139,490)}
\Cl{(1219,485) (1229,478) (1239,488) (1227,495) (1219,485)}
\Cl{(905,490) (945,498) (1000,495)}
% band lines
\Cl{(30,497) (60,508) (100,512) (130,515) (170,525) (215,518) (260,516) (300,514) (370,510) (395,478) (430,505) (470,517) (495,485) (530,510) (563,468) (610,505) (650,495) (700,495) (725,478) (770,490) (800,505) (860,512) (890,505) (945,505) (1014,512) (1100,512) (1180,515) (1220,510) (1260,520) (1310,478) (1345,497) (1395,488) (1425,505) (1500,497)}
\Cl{(30,505) (60,515) (100,520) (130,524) (170,535) (215,526) (260,523) (300,520) (370,515) (395,488) (430,515) (470,528) (495,498) (530,523) (563,482) (610,520) (650,508) (700,508) (725,490) (770,503) (800,517) (860,523) (890,515) (945,512) (1014,518) (1100,518) (1180,522) (1220,518) (1260,530) (1310,490) (1345,510) (1395,500) (1425,517) (1500,493) (1614,483) (1714,490) (1794,483) (1864,503) (1925,513) (1960,493) (2034,508)}
\Cl{(30,513) (60,522) (100,528) (130,533) (170,545) (215,534) (260,530) (300,526) (370,520) (395,498) (430,525) (470,540) (495,512) (530,538) (563,497) (610,535) (650,522) (700,520) (725,503) (770,516) (800,529) (860,534) (890,525) (945,519) (1014,524) (1100,524) (1180,529) (1220,526) (1260,542) (1310,503) (1345,522) (1395,513) (1425,530) (1500,506) (1614,497) (1714,503) (1794,496) (1864,515) (1925,525) (1960,505) (2034,520)}
\Cl{(30,520) (60,530) (100,536) (130,542) (170,556) (215,542) (260,537) (300,532) (370,526) (395,508) (430,535) (470,552) (495,526) (530,553) (563,512) (610,550) (650,535) (700,532) (725,516) (770,529) (800,541) (860,545) (890,535) (945,526) (1014,530) (1100,530) (1180,536) (1220,534) (1260,554) (1310,516) (1345,534) (1395,526) (1425,543) (1500,520) (1614,510) (1714,516) (1794,510) (1864,528) (1925,540) (1960,518) (2034,533)}
\Cl{(30,528) (60,538) (100,544) (130,550) (170,566) (215,550) (260,544) (300,538) (370,532) (395,518) (430,545) (470,564) (495,540) (530,568) (563,527) (610,565) (650,548) (700,544) (725,528) (770,542) (800,553) (860,556) (890,545) (945,533) (1014,536) (1100,536) (1180,543) (1220,542) (1260,566) (1310,529) (1345,546) (1395,539) (1425,556) (1500,533) (1614,523) (1714,529) (1794,522) (1864,540) (1925,553) (1960,530) (2034,545)}
\Cl{(30,536) (60,545) (100,552) (130,560) (170,578) (215,558) (260,551) (300,544) (370,538) (395,528) (430,555) (470,576) (495,554) (530,585) (563,542) (610,580) (650,562) (700,556) (725,540) (770,555) (800,565) (860,567) (890,555) (945,540) (1014,542) (1100,542) (1180,550) (1220,550) (1260,578)}
\Cl{(30,545) (60,553) (100,561) (130,570) (170,590) (215,566) (260,558) (300,551) (370,545) (395,535) (430,565) (470,590) (495,568) (530,605) (563,558) (610,600) (650,580) (700,568) (725,552) (770,568) (800,578) (860,578) (890,565) (945,550) (1014,548) (1100,550) (1180,557) (1220,560) (1260,590)}
\Cl{(30,555) (60,560) (100,572) (170,600) (215,570) (300,560) (370,552) (395,540)}
\Cl{(470,570) (495,580) (530,625) (563,580) (610,635) (640,590) (700,580) (725,565) (770,580) (860,590) (890,578) (945,565) (1014,565) (1118,590) (1174,565) (1234,570) (1244,600) (1230,640) (1224,690)}
\Cl{(1264,620) (1270,585) (1300,555) (1340,605) (1370,560) (1414,555) (1484,590) (1564,555) (1674,590) (1680,555) (1714,550) (1814,545) (1929,575) (1960,555) (2034,575)}
% lower
\Cl{(35,675) (68,632) (62,585) (105,590) (150,595) (170,600)}
\Cl{(35,680) (80,695) (190,690) (260,690) (320,670) (400,660) (430,640) (475,665) (500,685) (530,680) (590,670) (640,640) (690,625) (705,655) (730,630) (775,655) (790,680)}
\Cl{(20,715) (60,708) (110,705) (180,715) (230,707) (260,710) (320,700) (340,680) (360,700) (400,695) (430,680) (470,695) (530,695) (590,690) (640,660) (690,680) (710,660) (750,680) (775,700) (830,705) (880,705) (1014,705) (1090,705) (1200,700) (1225,700) (1240,670) (1270,695) (1340,695) (1400,680) (1430,695) (1500,690) (1560,690) (1600,670) (1630,700) (1700,690) (1760,690) (1800,705) (1850,710) (1910,730)}
\Cl{(30,695) (70,690) (180,695) (230,697) (320,688) (340,670) (360,690) (400,680) (430,665) (470,685) (530,688) (590,680) (640,650) (690,670) (710,645) (750,665) (775,690)}
\Cl{(800,690) (800,640) (830,625) (845,680) (858,730)}
\Cl{(820,650) (845,650)}
\Cl{(900,650) (905,625) (970,612) (1014,628) (1074,630) (1079,670) (1084,692) (1144,695) (1204,690) (1224,695)}
\Cl{(900,650) (940,665) (1014,655) (1014,690)}
\Cl{(1264,600) (1264,640) (1299,680) (1344,665) (1369,680) (1399,650) (1434,670) (1509,665) (1544,675) (1594,650) (1624,620) (1654,668) (1714,680) (1754,650) (1784,585) (1814,625) (1839,630) (1826,680) (1864,695) (1894,700) (1934,650) (1974,680) (2034,665)}
\Cl{(1894,650) (1900,630) (1934,610) (1979,598) (2034,620)}
\Cl{(1926,700) (1979,680) (1925,640)}
\Cl{(1999,670) (2034,660)}
\Cl{(305,585) (320,575) (335,590) (310,597) (305,585)}
\Cl{(340,595) (365,572) (388,590) (365,622) (345,605) (340,595)}
\Cl{(553,600) (563,560) (575,605) (565,622) (553,600)}
\Cl{(473,625) (482,612) (492,638) (478,640) (473,625)}
\Cl{(120,630) (148,622) (150,655) (140,680) (130,660) (120,630)}
\Cl{(165,665) (172,640) (180,670) (172,685) (165,665)}
\Cl{(232,655) (255,620) (265,660) (255,682) (232,655)}
\Cl{(85,645) (90,680) (85,695) (85,645)}
\Cl{(1509,577) (1514,610) (1504,610) (1504,585) (1509,577)}
\Cl{(1584,575) (1596,578) (1596,610) (1579,605) (1584,575)}
\Cl{(1192,665) (1202,680) (1182,682) (1192,665)}
\Cl{(1674,590) (1678,620) (1684,590)}
\Cl{(1414,555) (1440,605) (1460,560)}
\Cl{(100,725) (125,722) (150,725)}
\Cl{(190,725) (225,727)}
\Cl{(320,738) (340,705) (355,738)}
\Cl{(380,727) (400,718) (420,727)}
\Cl{(460,728) (480,722)}
\Cl{(520,712) (560,735)}
\Cl{(600,738) (640,712) (680,738)}
\Cl{(690,738) (700,712) (720,738)}
\Cl{(775,720) (800,715)}
\Cl{(1242,725) (1259,665) (1279,700)}
\Cl{(1299,725) (1324,710) (1344,725)}
\Cl{(1364,725) (1394,700)}
\Cl{(1484,725) (1509,715) (1534,725)}
\Cl{(1574,725) (1594,712) (1619,735)}
\Cl{(1714,725) (1729,715) (1744,725)}
\Cl{(1914,690) (1926,705)}
\Cl{(1926,680) (1932,685) (1926,690) (1920,685) (1926,680)}
\addplot[cl,line width=2pt] coordinates {(142,580) (142,585)};
\addplot[cl,line width=2pt] coordinates {(700,582) (700,587)};
\end{axis}
\node[rotate=90,anchor=base] at (37,274.5) {\ttl Height\ \ (km)};

%%%%%%%%%%%%%%%%%%%%%%%% long ticks: year boundaries
\foreach \yb in {1179,657,135.5}{
  \draw[line width=1pt] (405,\yb) -- ++(0,17);
  \draw[line width=1pt] (744,\yb) -- ++(0,17);
  \draw[line width=1pt] (405,\yb+282) -- ++(0,-17);
  \draw[line width=1pt] (744,\yb+282) -- ++(0,-17);
}

%%%%%%%%%%%%%%%%%%%%%%%% titles etc
\newcommand{\sups}[1]{\raisebox{11pt}{\fontsize{18}{18}\selectfont #1}}
\newcommand{\tab}{\tf\fontsize{30}{30}\selectfont\addfontfeature{LetterSpace=60}}
\node[anchor=base west] at (101,1480) {\tab(a)};
\node[anchor=base west] at (276,1480) {\ttl Zonal\ \ Wind\ \ (ms\sups{−1})};
\node[anchor=base west] at (101,957) {\tab(b)};
\node[anchor=base west] at (278,957) {\ttl Temperature\ \ (K)};
\node[anchor=base west] at (101,437) {\tab(c)};
\node[anchor=base west] at (320,437) {\ttl N\sups{2}\ \ (10\sups{−4}\ \ s\sups{−2})};
\newcommand{\yr}{\tf\fontsize{28}{28}\selectfont\addfontfeature{LetterSpace=36}}
\foreach \yy in {1105.5,583.5,62}{
  \node[anchor=base] at (254,\yy) {\yr 1997};
  \node[anchor=base] at (579,\yy) {\yr 1998};
}
\newcommand{\ci}{\tf\fontsize{22}{22}\selectfont\addfontfeature{LetterSpace=31}}
\node[anchor=base] at (436,1049) {\ci CONTOUR\ \ INTERVAL\ =\ 1.000E+01};
\node[anchor=base] at (436,527) {\ci CONTOUR\ \ INTERVAL\ =\ 1.000E+01};
\node[anchor=base] at (436,5.3) {\ci CONTOUR\ \ INTERVAL\ =\ 5.000E-01};

%%%% contour labels
\newcommand{\cf}{\tf\fontsize{27}{27}\selectfont}
\foreach \px/\py/\r/\t in {139.3/320/0/0,225.7/183.3/90/0,221.7/198.3/115/2,366.7/255.7/90/0,365/238/95/2,350/305/-30/0,439.7/265/90/0,514/228.3/90/0,511.3/243.3/95/2,569/285/-70/0,756.3/261.7/90/0}{
  \node[inner sep=0pt,rotate=\r] at (\px,1512-\py) {\cf\t};
}
\foreach \px/\py/\r/\t in {346.7/790/15/220,508/818/0/240,694.7/793/8/220,588/753/-45/200}{
  \node[inner sep=0pt,rotate=\r] at (\px,1512-\py) {\cf\t};
}
\foreach \px/\py/\r/\t in {691/1191/0/6,696/1250/0/5,333/1245/0/5,579/1244/0/4,253/1267/-90/4,310/1307/0/2,352/1355/0/2,486/1308/0/3}{
  \node[inner sep=0pt,rotate=\r] at (\px,1512-\py) {\cf\t};
}
\end{tikzpicture}
\end{document}
